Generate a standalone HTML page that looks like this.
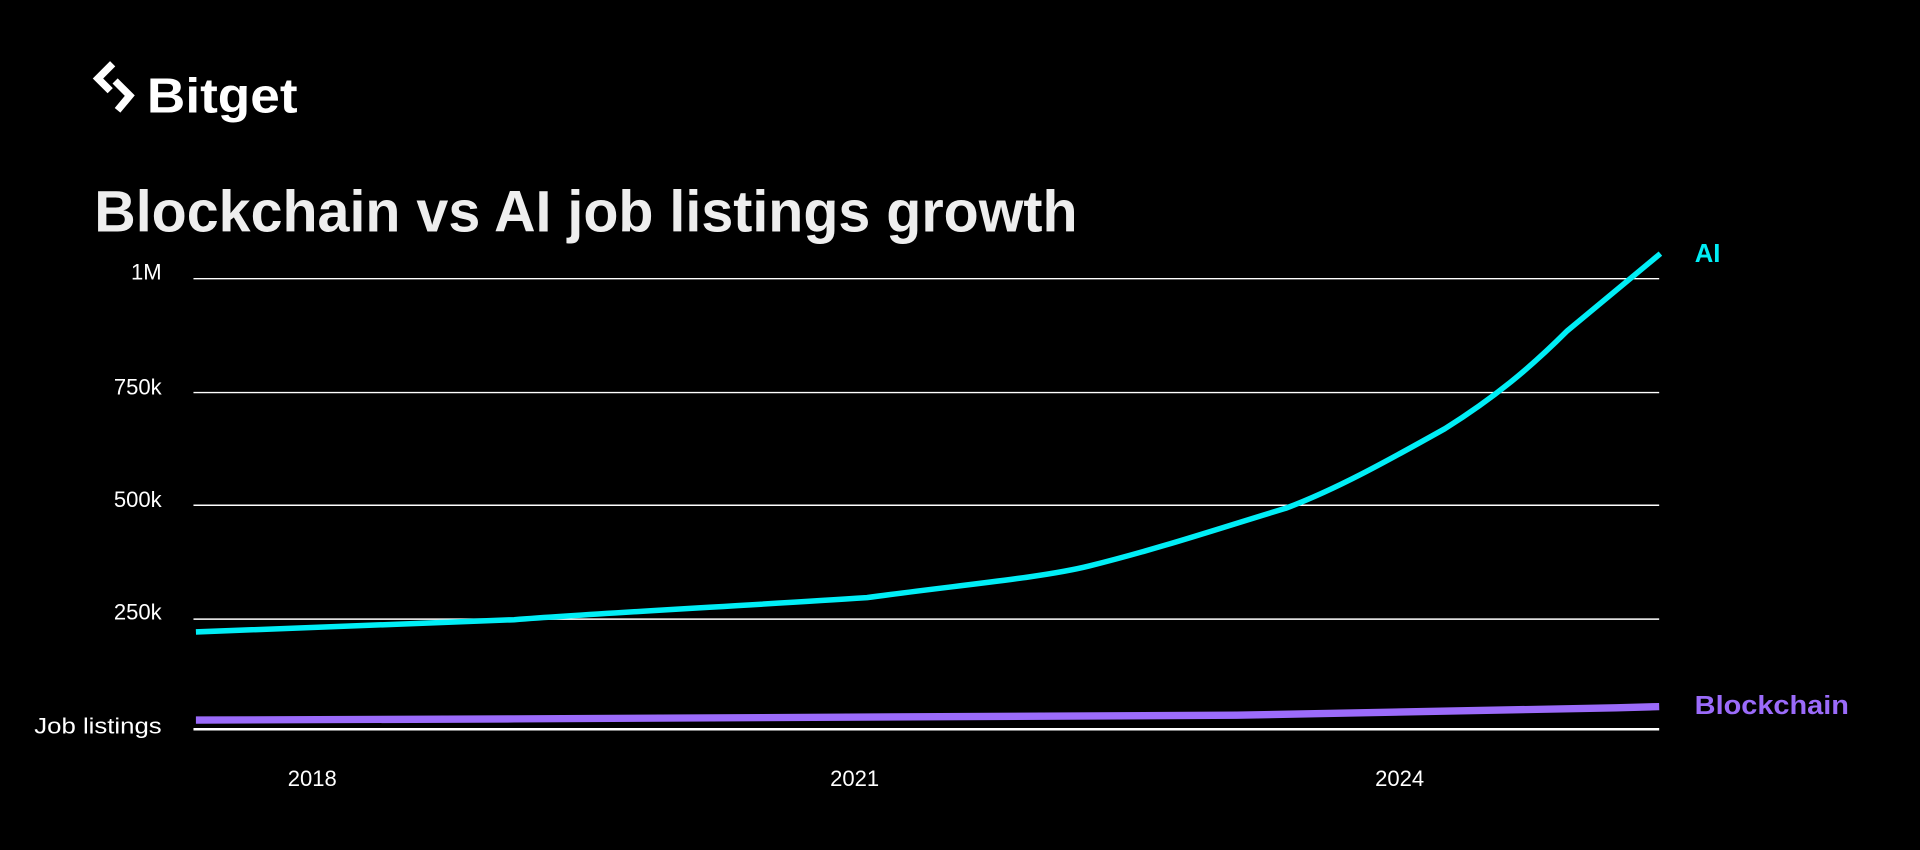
<!DOCTYPE html>
<html><head><meta charset="utf-8"><style>
html,body{margin:0;padding:0;background:#000;}
svg{display:block}
text{font-family:"Liberation Sans",sans-serif;}
</style></head><body>
<svg width="1920" height="850" viewBox="0 0 1568 694" xmlns="http://www.w3.org/2000/svg">
<rect width="1568" height="694" fill="#000"/>
<path d="M92 52 L80 64 L90 74" fill="none" stroke="#fff" stroke-width="6"/>
<path d="M94 66 L106 78 L96 90" fill="none" stroke="#fff" stroke-width="6"/>
<text x="120" y="92" font-size="40" font-weight="bold" fill="#fff" textLength="123" lengthAdjust="spacingAndGlyphs">Bitget</text>
<text x="77" y="189" font-size="48" font-weight="bold" fill="#eee" textLength="803" lengthAdjust="spacingAndGlyphs">Blockchain vs AI job listings growth</text>
<g stroke="#fff" stroke-width="1.2">
<line x1="158" y1="227.5" x2="1355" y2="227.5"/>
<line x1="158" y1="320.5" x2="1355" y2="320.5"/>
<line x1="158" y1="412.5" x2="1355" y2="412.5"/>
<line x1="158" y1="505.5" x2="1355" y2="505.5"/>
<line x1="158" y1="595.5" x2="1355" y2="595.5" stroke-width="2"/>
</g>
<g font-size="18" fill="#fff" text-anchor="end">
<text x="132" y="228">1M</text>
<text x="132" y="322">750k</text>
<text x="132" y="414">500k</text>
<text x="132" y="506">250k</text>
<text x="132" y="599" textLength="104" lengthAdjust="spacingAndGlyphs">Job listings</text>
</g>
<g font-size="18" fill="#fff" text-anchor="middle">
<text x="255" y="642">2018</text>
<text x="698" y="642">2021</text>
<text x="1143" y="642">2024</text>
</g>
<path d="M160 588 L420 587 L1010 584 C1150 582 1250 580 1355 577" fill="none" stroke="#9B6BFA" stroke-width="6"/>
<path d="M160 516 L420 506 C500 500 600 495 708 488 C780 478 850 472 890 462 C950 447 1000 430 1050 415 C1090 400 1130 378 1180 350 C1220 325 1250 300 1280 270 L1356 207" fill="none" stroke="#00EEF6" stroke-width="4.5" stroke-linejoin="round"/>
<text x="1384" y="214" font-size="21" font-weight="bold" fill="#00EEF6">AI</text>
<text x="1384" y="583" font-size="21" font-weight="bold" fill="#9B6BFA" textLength="126" lengthAdjust="spacingAndGlyphs">Blockchain</text>
</svg>
</body></html>
